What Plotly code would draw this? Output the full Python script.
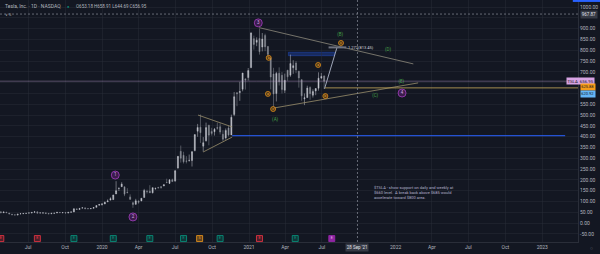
import plotly.graph_objects as go
import pandas as pd

# ---------------- data (weekly candles, split-adjusted) ----------------
week_start = "2019-04-24"
opens = [52.4, 47.6, 50.0, 46.4, 41.0, 38.0, 37.0, 42.2, 43.0, 44.6, 46.0, 46.2, 49.8, 51.6, 46.4, 45.8, 47.2, 44.4, 42.6,
         44.8, 46.2, 49.2, 48.2, 48.2, 46.0, 49.8, 51.4, 65.6, 62.8, 69.2, 70.0, 67.2, 65.8, 68.0, 72.6, 82.2, 85.6,
         88.0, 98.0, 106.0, 108.4, 134.6, 160.0, 168.2, 167.8, 142.2, 121.0, 94.0, 86.8, 102.0, 102.4, 118.0, 146.4, 147.4,
         140.2, 158.0, 165.4, 166.8, 171.6, 188.0, 183.4, 200.0, 194.0, 255.2, 332.0, 313.6, 287.0, 289.8, 289.6, 335.4,
         425.2, 444.0, 356.0, 381.0, 453.0, 424.0, 423.0, 442.0, 446.0, 411.0, 394.0, 440.0, 408.0, 503.0, 603.0, 604.0,
         620.0, 668.0, 674.0,
         720, 854, 837, 855, 815, 869, 818, 762, 690, 600, 694, 684, 615, 708, 685, 719, 741, 703, 664, 575, 581, 628,
         592, 612, 624, 671.6, 681]
highs = [53.0, 52.0, 51.6, 46.4, 41.2, 38.4, 41.8, 45.2, 45.4, 46.0, 47.6, 49.2, 53.2, 53.2, 49.0, 47.0, 47.6, 45.8, 45.6,
         46.6, 49.6, 49.6, 49.4, 49.4, 49.6, 52.4, 68.0, 65.6, 69.0, 71.2, 72.8, 67.4, 67.6, 72.4, 81.6, 87.0, 90.8,
         99.6, 109.4, 119.0, 130.6, 193.8, 165.8, 188.9, 168.0, 161.2, 132.8, 98.8, 112.0, 105.0, 114.8, 158.0, 154.2, 175.2,
         164.2, 164.8, 165.4, 167.2, 179.8, 205.4, 202.4, 205.4, 245.6, 309.6, 358.8, 330.0, 309.6, 317.2, 333.2, 410.0,
         459.0, 502.5, 398.0, 465.0, 455.0, 441.0, 440.0, 465.0, 462.0, 430.0, 438.0, 452.0, 502.0, 607.0, 607.0, 654.0,
         695.0, 668.0, 718.0,
         884, 868, 860, 900.4, 880, 877, 819, 768, 719, 700, 721, 699, 692, 708, 780, 754, 750, 705, 666, 600, 636, 633,
         619, 625, 698, 694.7, 684]
lows = [46.6, 46.4, 47.0, 41.0, 37.0, 36.2, 35.2, 41.6, 42.6, 42.6, 45.0, 45.2, 49.2, 45.0, 46.0, 44.8, 43.0, 42.2, 42.4,
        44.4, 46.0, 47.6, 45.0, 44.8, 45.6, 49.4, 50.4, 62.0, 62.6, 67.4, 63.8, 65.0, 64.6, 67.4, 72.4, 82.0, 80.4,
        88.0, 98.0, 105.0, 106.4, 134.6, 148.4, 167.0, 124.4, 138.0, 109.2, 70.2, 84.2, 89.2, 101.0, 118.0, 136.6, 140.2,
        136.6, 155.0, 159.4, 159.8, 171.0, 187.0, 181.0, 191.2, 191.6, 251.0, 280.0, 275.6, 276.0, 284.0, 261.6, 332.0,
        399.4, 371.0, 330.0, 377.0, 360.0, 405.0, 405.0, 432.0, 410.0, 379.0, 386.0, 401.0, 408.0, 495.0, 541.0, 566.0,
        610.0, 618.0, 660.0,
        717, 803, 819, 780, 795, 796, 772, 619, 539.5, 563, 637, 600, 602, 659, 677, 691, 694, 627, 566, 546, 580, 571,
        581, 592, 613, 666, 620.5]
closes = [47.0, 51.2, 47.8, 42.2, 38.0, 37.0, 41.0, 42.8, 44.2, 44.8, 46.8, 49.0, 51.6, 45.6, 46.8, 47.0, 43.8, 42.2, 45.0,
          45.8, 49.4, 48.0, 48.4, 46.2, 49.4, 51.4, 65.6, 62.6, 67.4, 70.4, 66.6, 65.8, 67.2, 71.8, 81.0, 86.0, 88.6,
          95.6, 102.0, 112.8, 130.0, 149.6, 160.0, 180.2, 133.6, 140.6, 109.2, 85.4, 102.8, 96.0, 114.6, 150.6, 145.0, 140.2,
          163.8, 159.8, 163.2, 167.0, 177.0, 187.0, 200.0, 191.8, 241.6, 308.8, 300.0, 283.4, 286.0, 290.4, 330.0, 409.8,
          442.6, 418.3, 372.0, 442.0, 407.0, 415.0, 434.0, 439.0, 421.0, 388.0, 429.0, 408.0, 490.0, 585.0, 599.0, 609.0,
          695.0, 662.0, 706.0,
          880, 827, 847, 793.5, 852, 816, 781, 676, 597.9, 693, 654, 618, 661, 677, 739, 729, 709, 672, 589, 580, 625, 599,
          609, 623, 671, 678.9, 656.95]

x_range = ["2019-04-22", "2023-03-31"]
y_range = [-88, 1033]
price_ticks = list(range(-50, 1001, 50))
hidden_price_ticks = [950, 650, 600]   # covered by axis tags in the reference
time_tick_dates = ["2019-07-01", "2019-10-01", "2020-01-01", "2020-04-01", "2020-07-01", "2020-10-01", "2021-01-01",
                   "2021-04-01", "2021-07-01", "2022-01-01", "2022-04-01", "2022-07-01", "2022-10-01", "2023-01-01"]
time_tick_text = ["Jul", "Oct", "2020", "Apr", "Jul", "Oct", "2021", "Apr", "Jul", "2022", "Apr", "Jul", "Oct", "2023"]

last_price = 656.95
orange_level = 625.88
blue_level = 405.0
crosshair_date = "2021-09-28"
crosshair_price = 967.87

# drawings (date, price)
tri2020_upper = (["2020-08-27", "2020-11-20"], [500, 445])
tri2020_lower = (["2020-09-09", "2020-11-20"], [329, 398])
upper_trend = (["2021-01-26", "2022-02-14"], [905, 737])
lower_trend = (["2021-03-05", "2022-02-26"], [533, 649])
blue_line_dates = ["2020-11-20", "2023-02-27"]
blue_box = (["2021-04-09", "2021-08-02"], [775, 791])
fib_leg = (["2021-07-08", "2021-08-08"], [622, 813.45])
fib_bar = (["2021-07-18", "2021-08-31"], 813.45)
orange_line_start = "2021-07-09"

purple_labels = ["1", "2", "3", "4"]
purple_dates = ["2020-02-03", "2020-03-18", "2021-01-24", "2022-01-17"]
purple_prices = [222, 28, 927, 602]

orange_labels = ["a", "b", "c", "a", "b", "c"]
orange_dates = ["2021-02-17", "2021-02-19", "2021-03-02", "2021-06-22", "2021-07-10", "2021-08-18"]
orange_prices = [598, 765, 528, 732, 588, 834]

green_labels = ["(A)", "(B)", "(C)", "(D)", "(E)"]
green_dates = ["2021-03-07", "2021-08-16", "2021-11-11", "2021-12-13", "2022-01-15"]
green_prices = [477, 871, 588, 802, 653]

earn_dates = ["2019-04-24", "2019-07-24", "2019-10-23", "2020-01-29", "2020-04-29", "2020-07-22", "2020-08-31",
              "2020-10-21", "2021-01-27", "2021-04-26", "2021-07-26"]
earn_kind = ["miss", "miss", "beat", "beat", "beat", "beat", "split", "beat", "miss", "beat", "next"]
earn_price = -72

# ---------------- styling ----------------
BG = "#131722"
GRID = "rgba(42,46,57,0.45)"
AX = "#b2b5be"
FONT = "Roboto"
LINE_TAN = "#9a8f6c"

dates = pd.date_range(week_start, periods=len(closes), freq="7D")

fig = go.Figure()
fig.add_shape(type="rect", xref="x", yref="y", x0=blue_box[0][0], x1=blue_box[0][1], y0=blue_box[1][0],
              y1=blue_box[1][1], fillcolor="rgba(41,98,255,0.28)", line=dict(width=0.6, color="rgba(41,98,255,0.5)"),
              layer="below")

fig.add_trace(go.Candlestick(
    x=dates, open=opens, high=highs, low=lows, close=closes,
    increasing=dict(line=dict(color="#c4c7cf", width=0.5), fillcolor="#c4c7cf"),
    decreasing=dict(line=dict(color="#8f929b", width=0.5), fillcolor="#8f929b"),
    whiskerwidth=0, showlegend=False, hoverinfo="skip"))


def seg(xs, ys, color, width=0.8, dash=None):
    fig.add_trace(go.Scatter(x=xs, y=ys, mode="lines", hoverinfo="skip", showlegend=False,
                             line=dict(color=color, width=width, dash=dash)))


seg(*tri2020_upper, LINE_TAN)
seg(*tri2020_lower, LINE_TAN)
seg(*upper_trend, "#8e8a7c")
seg(*lower_trend, LINE_TAN)
seg(blue_line_dates, [blue_level, blue_level], "rgba(41,98,255,0.8)", 1.3)
seg(*fib_leg, "#aeb6c8", 0.9)
seg(fib_bar[0], [fib_bar[1], fib_bar[1]], "#6f7380", 2)
seg([orange_line_start, x_range[1]], [orange_level, orange_level], "#b59a55", 0.9)

# price line & crosshair
fig.add_shape(type="line", xref="paper", yref="y", x0=0, x1=1, y0=last_price, y1=last_price,
              line=dict(color="rgba(190,160,210,0.5)", width=0.8))
fig.add_shape(type="line", xref="paper", yref="y", x0=0, x1=1, y0=crosshair_price, y1=crosshair_price,
              line=dict(color="#8a8e99", width=0.7, dash="2px,2px"))
fig.add_shape(type="line", xref="x", yref="paper", x0=crosshair_date, x1=crosshair_date, y0=0, y1=1,
              line=dict(color="#8a8e99", width=0.7, dash="2px,2px"))

# wave labels
fig.add_trace(go.Scatter(x=purple_dates, y=purple_prices, mode="markers+text", text=purple_labels,
                         textposition="middle center", hoverinfo="skip", showlegend=False,
                         marker=dict(size=8, color="rgba(156,39,176,0.3)", line=dict(color="#a53fc0", width=0.8)),
                         textfont=dict(size=4.5, color="#d9a6e6", family=FONT)))
fig.add_trace(go.Scatter(x=orange_dates, y=orange_prices, mode="markers+text", text=orange_labels,
                         textposition="middle center", hoverinfo="skip", showlegend=False,
                         marker=dict(size=5, color="rgba(255,152,0,0.25)", line=dict(color="#f59c1a", width=0.7)),
                         textfont=dict(size=3.5, color="#f5a623", family=FONT)))
fig.add_trace(go.Scatter(x=green_dates, y=green_prices, mode="text", text=green_labels,
                         textposition="middle center", hoverinfo="skip", showlegend=False,
                         textfont=dict(size=4.5, color="#43a047", family=FONT)))

# earnings / events
kind_col = {"miss": "#f23645", "beat": "#089981", "split": "#f59c1a", "next": "#9c27b0"}
kind_fill = {"miss": "rgba(242,54,69,0.25)", "beat": "rgba(8,153,129,0.25)", "split": "rgba(245,156,26,0.35)",
             "next": "rgba(156,39,176,0.9)"}
kind_txt = {"miss": "E", "beat": "E", "split": "S", "next": "E"}
fig.add_trace(go.Scatter(x=earn_dates, y=[earn_price] * len(earn_dates), mode="markers+text",
                         text=[kind_txt[k] for k in earn_kind], textposition="middle center",
                         hoverinfo="skip", showlegend=False,
                         marker=dict(symbol="square", size=6, color=[kind_fill[k] for k in earn_kind],
                                     line=dict(color=[kind_col[k] for k in earn_kind], width=0.8)),
                         textfont=dict(size=3.5, color=[kind_col[k] if k != "next" else "#e1bee7" for k in earn_kind],
                                       family=FONT)))

# ---------------- layout ----------------
fig.update_layout(
    width=600, height=254, margin=dict(l=0, r=22, t=0, b=12),
    paper_bgcolor=BG, plot_bgcolor=BG, showlegend=False,
    boxgap=0.55, boxgroupgap=0.2,
    font=dict(family=FONT, color=AX, size=5),
    xaxis=dict(type="date", range=x_range, tickvals=time_tick_dates, ticktext=time_tick_text,
               tickfont=dict(size=5, color=AX), showgrid=True, gridcolor=GRID, gridwidth=0.6,
               rangeslider=dict(visible=False), showline=True, linecolor="#2a2e39", zeroline=False,
               ticks="", fixedrange=True),
    yaxis=dict(side="right", range=y_range, tickvals=price_ticks,
               ticktext=["" if v in hidden_price_ticks else f"{v:.2f}" for v in price_ticks],
               tickfont=dict(size=5, color=AX), showgrid=True, gridcolor=GRID, gridwidth=0.6, zeroline=False,
               showline=True, linecolor="#2a2e39", ticks="", fixedrange=True),
)

ann = []
ann.append(dict(xref="paper", yref="paper", x=0.005, y=0.975, xanchor="left", yanchor="middle", showarrow=False,
                text="Tesla, Inc. · 1D · NASDAQ", font=dict(size=5, color=AX)))
ann.append(dict(xref="paper", yref="paper", x=0.113, y=0.975, xanchor="left", yanchor="middle", showarrow=False,
                text="<span style='color:#089981'>●</span>", font=dict(size=4, color=AX)))
ann.append(dict(xref="paper", yref="paper", x=0.128, y=0.975, xanchor="left", yanchor="middle", showarrow=False,
                text="O653.18 H658.91 L644.69 C656.95", font=dict(size=4.5, color=AX)))
ann.append(dict(xref="paper", yref="paper", x=0.005, y=0.94, xanchor="left", yanchor="middle", showarrow=False,
                text="∨ 5", font=dict(size=4, color=AX)))
ann.append(dict(xref="paper", yref="paper", x=0.6436, y=0.244, xanchor="left", yanchor="top", showarrow=False,
                align="left", font=dict(size=4, color="#b4b1cc"),
                text="$TSLA - show support on daily and weekly at<br>$660 level.  A break back above $685 would"
                     "<br>accelerate toward $800 area."))
ann.append(dict(xref="x", yref="y", x=fib_bar[0][1], y=fib_bar[1], xanchor="left", yanchor="middle",
                showarrow=False, text="1.272(813.45)", font=dict(size=4, color="#d1d4dc")))
# axis tags
ann.append(dict(xref="paper", yref="y", x=0.979, y=last_price, xanchor="left", yanchor="middle", showarrow=False,
                text="TSLA  656.95", bgcolor="#d7a3e3", borderpad=0.5, font=dict(size=4.3, color="#131722")))
ann.append(dict(xref="paper", yref="y", x=1.003, y=628, xanchor="left", yanchor="middle", showarrow=False,
                text="625.88", bgcolor="#f59c1a", borderpad=0.3, font=dict(size=4, color="#131722")))
ann.append(dict(xref="paper", yref="y", x=1.003, y=598, xanchor="left", yanchor="middle", showarrow=False,
                text="620.92", bgcolor="#64b5f6", borderpad=0.3, font=dict(size=4, color="#131722")))
ann.append(dict(xref="paper", yref="y", x=1.003, y=crosshair_price, xanchor="left", yanchor="middle",
                showarrow=False, text="967.87", bgcolor="#363a45", borderpad=0.8, font=dict(size=4.5, color="#e0e3eb")))
ann.append(dict(xref="x", yref="paper", x=crosshair_date, y=-0.022, xanchor="center", yanchor="middle",
                showarrow=False, text="28 Sep '21", bgcolor="#363a45", borderpad=0.8,
                font=dict(size=4.5, color="#e0e3eb")))
ann.append(dict(xref="paper", yref="paper", x=1.017, y=-0.025, xanchor="left", yanchor="middle", showarrow=False,
                text="○", font=dict(size=5, color="#787b86")))
fig.update_layout(annotations=ann)
fig.add_shape(type="rect", xref="paper", yref="paper", x0=0.991, x1=1.04, y0=0.992, y1=1.0,
              fillcolor="#2962ff", line=dict(width=0))

fig.write_html("out.html")
